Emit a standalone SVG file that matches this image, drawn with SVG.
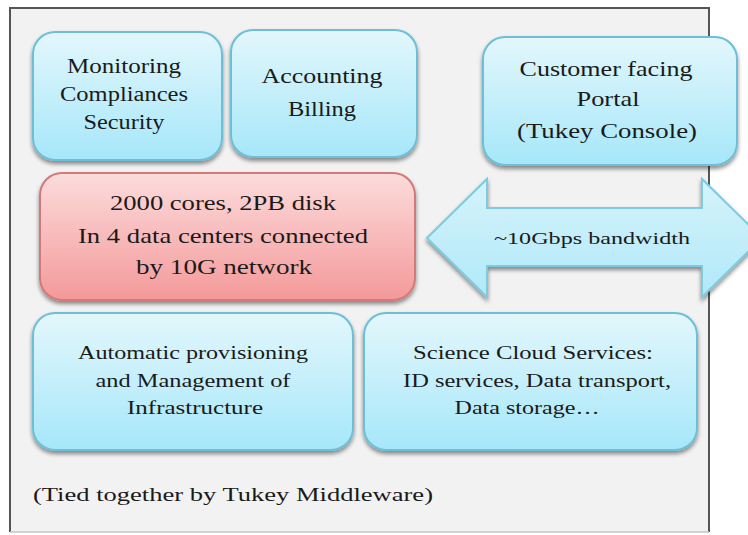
<svg xmlns="http://www.w3.org/2000/svg" width="748" height="535" viewBox="0 0 748 535">
<defs>
<linearGradient id="gb" x1="0" y1="0" x2="0" y2="1">
<stop offset="0" stop-color="#e3f7fc"/>
<stop offset="1" stop-color="#a6e7f9"/>
</linearGradient>
<linearGradient id="gr" x1="0" y1="0" x2="0" y2="1">
<stop offset="0" stop-color="#fcdcdc"/>
<stop offset="1" stop-color="#f4999a"/>
</linearGradient>
<linearGradient id="ga" x1="0" y1="0" x2="0" y2="1">
<stop offset="0" stop-color="#d6f3fb"/>
<stop offset="1" stop-color="#b0e9f8"/>
</linearGradient>
<filter id="sh" x="-10%" y="-10%" width="120%" height="130%">
<feGaussianBlur in="SourceAlpha" stdDeviation="2"/>
<feOffset dx="0" dy="3" result="b"/>
<feComponentTransfer><feFuncA type="linear" slope="0.45"/></feComponentTransfer>
<feMerge><feMergeNode/><feMergeNode in="SourceGraphic"/></feMerge>
</filter>
</defs>
<style>
.blue{fill:url(#gb);stroke:#6cbfd6;stroke-width:2}
.red{fill:url(#gr);stroke:#d27a7a;stroke-width:2}
text{font-family:"Liberation Serif","Times New Roman",serif;fill:#1a1a1a;text-anchor:middle}
.t22{font-size:22px}
.t20{font-size:20px}
.t19{font-size:19px}
.t17{font-size:17px}
</style>
<rect x="0" y="0" width="748" height="535" fill="#ffffff"/>
<g id="frame">
<rect x="10" y="8" width="699" height="524" fill="#f2f2f2"/>
<path d="M10,532 L10,8 L709,8 L709,532" fill="none" stroke="#555" stroke-width="2"/>
<line x1="10" y1="532" x2="709" y2="532" stroke="#c4c4c4" stroke-width="1.5"/>
</g>
<g id="monitoring">
<rect class="blue" x="33" y="32" width="189" height="128" rx="22" filter="url(#sh)"/>
<text class="t20" x="124" y="73" textLength="114" lengthAdjust="spacingAndGlyphs">Monitoring</text>
<text class="t20" x="124" y="101" textLength="128" lengthAdjust="spacingAndGlyphs">Compliances</text>
<text class="t20" x="124" y="129" textLength="81" lengthAdjust="spacingAndGlyphs">Security</text>
</g>
<g id="accounting">
<rect class="blue" x="231" y="30" width="186" height="127" rx="22" filter="url(#sh)"/>
<text class="t22" x="322" y="83" textLength="121" lengthAdjust="spacingAndGlyphs">Accounting</text>
<text class="t22" x="322" y="116" textLength="68" lengthAdjust="spacingAndGlyphs">Billing</text>
</g>
<g id="portal">
<rect class="blue" x="483" y="37" width="254" height="128" rx="22" filter="url(#sh)"/>
<text class="t22" x="606" y="76" textLength="173" lengthAdjust="spacingAndGlyphs">Customer facing</text>
<text class="t22" x="608" y="106" textLength="63" lengthAdjust="spacingAndGlyphs">Portal</text>
<text class="t22" x="607" y="138" textLength="180" lengthAdjust="spacingAndGlyphs">(Tukey Console)</text>
</g>
<g id="cluster">
<rect class="red" x="40" y="173" width="375" height="127" rx="22" filter="url(#sh)"/>
<text class="t22" x="223" y="210" textLength="226" lengthAdjust="spacingAndGlyphs">2000 cores, 2PB disk</text>
<text class="t22" x="223" y="243" textLength="290" lengthAdjust="spacingAndGlyphs">In 4 data centers connected</text>
<text class="t22" x="224" y="274" textLength="176" lengthAdjust="spacingAndGlyphs">by 10G network</text>
</g>
<g id="connectors">
<path d="M427,238 L487,179 L487,208 L702,208 L702,179 L762,238 L702,297 L702,266 L487,266 L487,297 Z" fill="url(#ga)" stroke="#7ccbe0" stroke-width="2" filter="url(#sh)"/>
<text class="t17" x="592" y="244" textLength="196" lengthAdjust="spacingAndGlyphs">~10Gbps bandwidth</text>
</g>
<g id="provisioning">
<rect class="blue" x="33" y="313" width="320" height="137" rx="22" filter="url(#sh)"/>
<text class="t19" x="193" y="359" textLength="230" lengthAdjust="spacingAndGlyphs">Automatic provisioning</text>
<text class="t19" x="193" y="387" textLength="195" lengthAdjust="spacingAndGlyphs">and Management of</text>
<text class="t19" x="195" y="414" textLength="136" lengthAdjust="spacingAndGlyphs">Infrastructure</text>
</g>
<g id="science">
<rect class="blue" x="364" y="313" width="333" height="137" rx="22" filter="url(#sh)"/>
<text class="t19" x="533" y="359" textLength="240" lengthAdjust="spacingAndGlyphs">Science Cloud Services:</text>
<text class="t19" x="537" y="387" textLength="268" lengthAdjust="spacingAndGlyphs">ID services, Data transport,</text>
<text class="t19" x="527" y="414" textLength="145" lengthAdjust="spacingAndGlyphs">Data storage…</text>
</g>
<g id="note">
<text class="t19" x="33" y="501" style="text-anchor:start" textLength="400" lengthAdjust="spacingAndGlyphs">(Tied together by Tukey Middleware)</text>
</g>
</svg>
